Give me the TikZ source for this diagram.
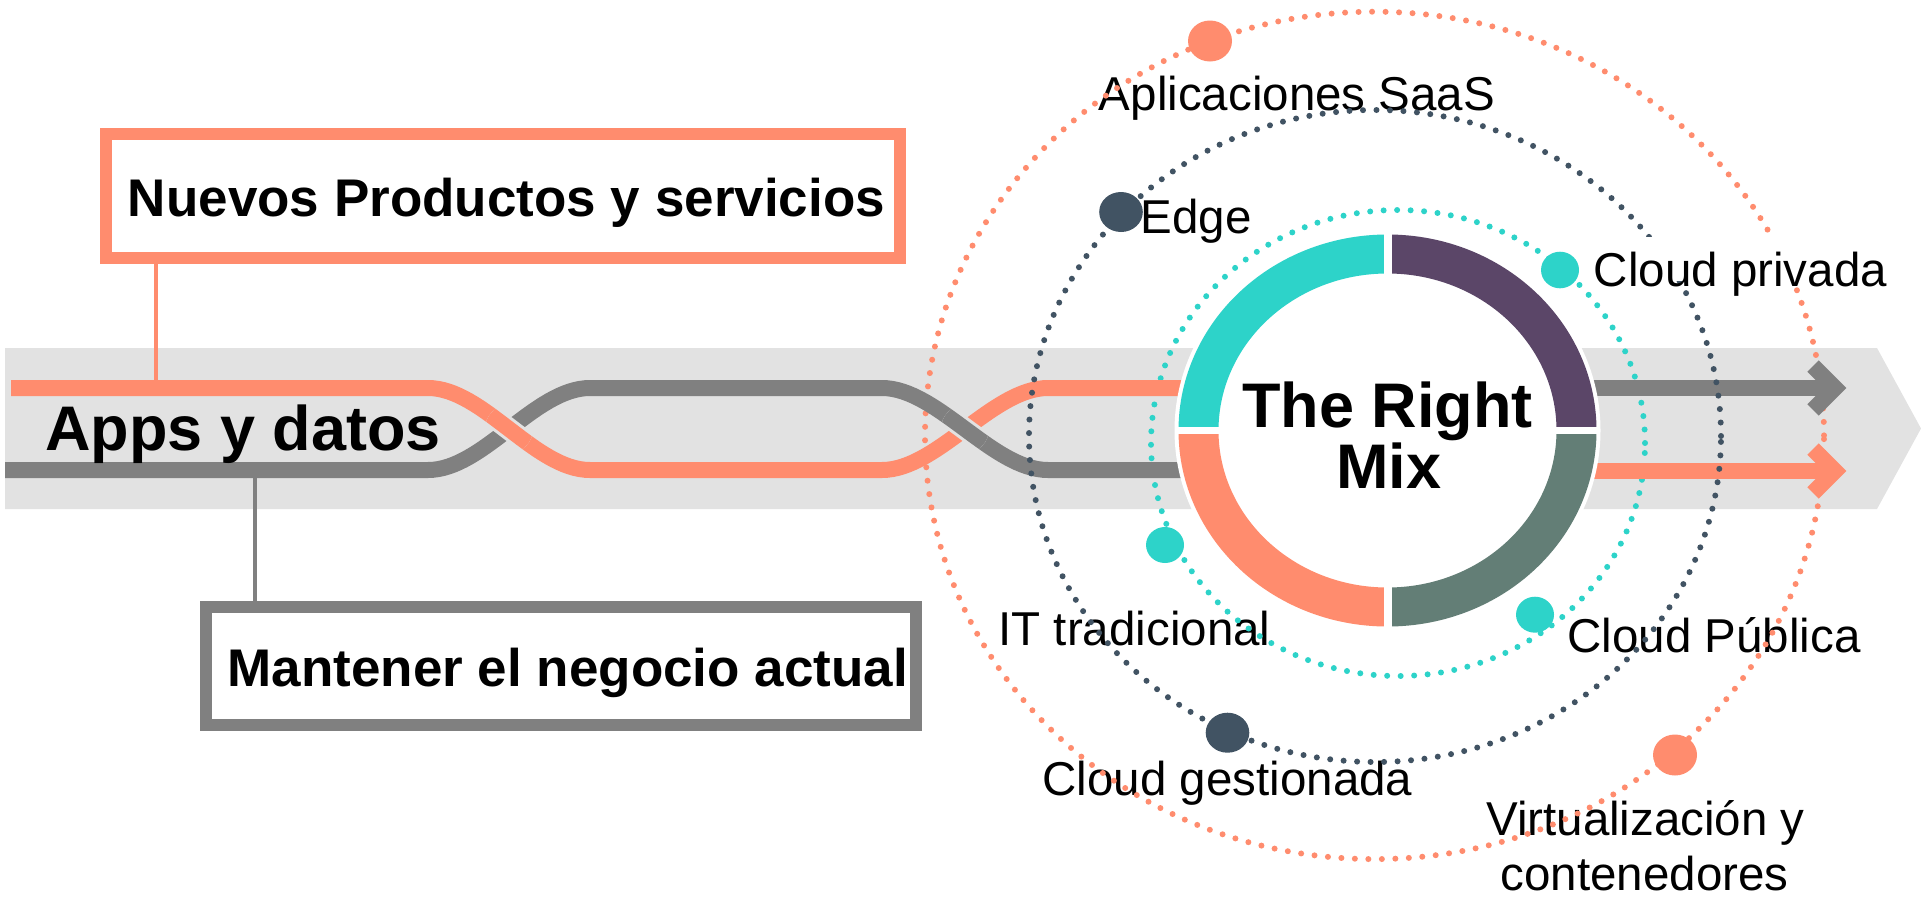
\documentclass[tikz,border=0pt]{standalone}
\usepackage{fontspec}
\setmainfont{Liberation Sans}
\usetikzlibrary{calc}
\definecolor{cOrange}{HTML}{FF8C6E}
\definecolor{cGray}{HTML}{808080}
\definecolor{cBand}{HTML}{E2E2E2}
\definecolor{cTeal}{HTML}{2DD3C9}
\definecolor{cNavy}{HTML}{415363}
\definecolor{cPurple}{HTML}{5B4668}
\definecolor{cSage}{HTML}{637E76}
\begin{document}
\begin{tikzpicture}[x=1pt,y=-1pt,
  track/.style={line width=16pt},
  dotline/.style={line width=6pt, line cap=round, dash pattern=on 0pt off 13.5pt},
  lbl/.style={font=\fontsize{47.5}{55}\selectfont, inner sep=0pt, anchor=base},
  bigtxt/.style={font=\fontsize{63}{70}\bfseries\selectfont, inner sep=0pt, anchor=base},
  boxnode/.style={line width=12pt, inner sep=0pt, fill=white,
     font=\fontsize{53}{60}\bfseries\selectfont, text height=50pt}]
\useasboundingbox (0,0) rectangle (1921,897);

% band
\fill[cBand] (5,348) -- (1877,348) -- (1921,428.5) -- (1877,509) -- (5,509) -- cycle;

% labels (under the dotted rings)
\node[lbl] (saas) at (1297,110.7) {Aplicaciones SaaS};
\node[lbl] (edge) at (1196,233.3) {Edge};
\node[lbl] (itrad) at (1134.5,645.7) {IT tradicional};
\node[lbl] (publica) at (1714,652.7) {Cloud Pública};
\node[lbl] (gest) at (1227.5,795) {Cloud gestionada};
\node[lbl] (virt) at (1645.5,835) {Virtualización y};
\node[lbl] (cont) at (1644.5,890) {contenedores};

% orange and teal dotted rings
\draw[dotline, cOrange] (1374.5,435.4) ellipse [x radius=449.5pt, y radius=423.7pt];
\draw[dotline, cTeal] (1398,443) ellipse [x radius=247pt, y radius=233pt];

% boxes
\node[boxnode, draw=cOrange, minimum width=794pt, minimum height=124pt, text depth=9.2pt]
  (nuevos) at (503,196.3) {\hspace*{7pt}Nuevos Productos y servicios};
\node[boxnode, draw=cGray, minimum width=710pt, minimum height=117.7pt, text depth=8.3pt]
  (mantener) at (560.75,665.85) {\hspace*{14pt}Mantener el negocio actual};

\coordinate (ntap) at (156,388);
\coordinate (mtap) at (255,470);
\draw[cOrange, line width=4.3pt] (nuevos.south -| ntap) -- (ntap);
\draw[cGray, line width=4.6pt] (mtap) -- (mantener.north -| mtap);

% tracks
\coordinate (rc) at (1387.5,430.5);
\draw[track, cGray] (5,470) -- (428,470) .. controls (483,470) and (535,388) .. (590,388)
   -- (882,388) .. controls (937,388) and (993,470) .. (1048,470) -- (rc |- mtap);
\draw[track, cOrange] (11,388) -- (428,388) .. controls (483,388) and (535,470) .. (590,470)
   -- (882,470) .. controls (937,470) and (993,388) .. (1048,388) -- (rc |- ntap);
% crossing 1: orange over gray
\begin{scope}
  \clip (509,429) circle (24pt);
  \draw[cBand, line width=22pt] (428,388) .. controls (483,388) and (535,470) .. (590,470);
  \draw[track, cOrange] (428,388) .. controls (483,388) and (535,470) .. (590,470);
\end{scope}
% crossing 2: gray over orange
\begin{scope}
  \clip (965,429) circle (24pt);
  \draw[cBand, line width=22pt] (882,388) .. controls (937,388) and (993,470) .. (1048,470);
  \draw[track, cGray] (882,388) .. controls (937,388) and (993,470) .. (1048,470);
\end{scope}

% outgoing arrows
\coordinate (gtip) at (1835,388);
\coordinate (otip) at (1835,471);
\draw[track, cGray] (rc |- gtip) -- (gtip);
\draw[track, cGray, line join=miter] ($(gtip)+(-22,-22)$) -- (gtip) -- ($(gtip)+(-22,22)$);
\draw[track, cOrange] (rc |- otip) -- (otip);
\draw[track, cOrange, line join=miter] ($(otip)+(-22,-22)$) -- (otip) -- ($(otip)+(-22,22)$);

\node[bigtxt] (apps) at (243,450) {Apps y datos};

% navy dotted ring (above the tracks)
\draw[dotline, cNavy] (1375,436) ellipse [x radius=346pt, y radius=326pt];

% the ring
\fill[white] (rc) ellipse [x radius=213pt, y radius=200pt];
\begin{scope}
  \clip (rc) rectangle (1170,220);
  \fill[cTeal, even odd rule] (rc) ellipse [x radius=209pt, y radius=196pt]
     (rc) ellipse [x radius=169pt, y radius=157pt];
\end{scope}
\begin{scope}
  \clip (rc) rectangle (1610,220);
  \fill[cPurple, even odd rule] (rc) ellipse [x radius=209pt, y radius=196pt]
     (rc) ellipse [x radius=169pt, y radius=157pt];
\end{scope}
\begin{scope}
  \clip (rc) rectangle (1170,640);
  \fill[cOrange, even odd rule] (rc) ellipse [x radius=209pt, y radius=196pt]
     (rc) ellipse [x radius=169pt, y radius=157pt];
\end{scope}
\begin{scope}
  \clip (rc) rectangle (1610,640);
  \fill[cSage, even odd rule] (rc) ellipse [x radius=209pt, y radius=196pt]
     (rc) ellipse [x radius=169pt, y radius=157pt];
\end{scope}
\draw[white, line width=8pt] (1387.5,230) -- (1387.5,631);
\draw[white, line width=7pt] (1175,430.5) -- (1600,430.5);

\node[bigtxt] (rt) at (1387.5,427.7) {The Right};
\node[bigtxt] (mx) at (1388.6,488.3) {Mix};

% markers on the rings
\fill[cOrange] (1210,41) ellipse [x radius=22pt, y radius=20.5pt];
\fill[cOrange] (1675,755) ellipse [x radius=22pt, y radius=20.5pt];
\fill[cNavy] (1121,212) ellipse [x radius=21.8pt, y radius=20pt];
\fill[cNavy] (1227.5,732.7) ellipse [x radius=21.8pt, y radius=20pt];
\fill[cTeal] (1560,270) ellipse [x radius=19pt, y radius=18.3pt];
\fill[cTeal] (1165,545) ellipse [x radius=19pt, y radius=18pt];
\fill[cTeal] (1535,614.7) ellipse [x radius=19pt, y radius=18pt];

% label with a white ground
\fill[white] (1590,237) rectangle (1890,281);
\node[lbl] (privada) at (1740.4,286.7) {Cloud privada};
\end{tikzpicture}
\end{document}
